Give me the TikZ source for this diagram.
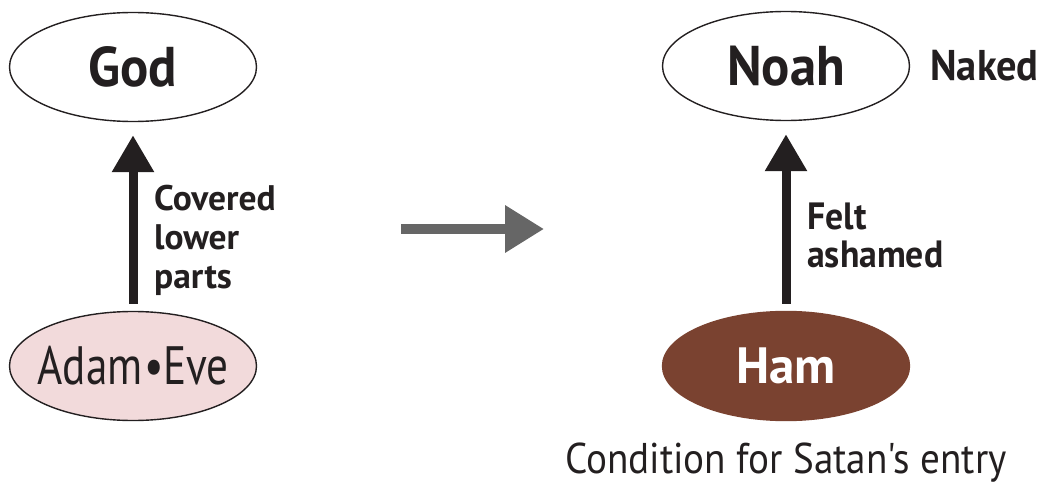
\documentclass[tikz,border=0pt]{standalone}
\usepackage{fontspec}
\usetikzlibrary{positioning,arrows.meta,shapes.geometric}
\newfontfamily\headfont[FakeStretch=0.94]{PT Sans}
\newfontfamily\labfont{PT Sans}
\newfontfamily\namefont[FakeStretch=0.8]{PT Sans}
\newfontfamily\regcond[FakeStretch=0.91]{PT Sans}
\definecolor{ink}{HTML}{231f20}
\definecolor{pink}{HTML}{f2dadb}
\definecolor{brown}{HTML}{7a4230}
\definecolor{grey}{HTML}{666666}
\tikzset{
  person/.style={ellipse,draw=ink,line width=1.4pt,fill=white,minimum width=247pt,minimum height=109pt,inner sep=0pt,text=ink},
  big/.style={font=\headfont\bfseries\fontsize{56}{60}\selectfont},
  up/.style={-{Triangle[length=37pt,width=40pt]},line width=9pt,draw=ink,shorten <=7pt,shorten >=13pt},
  turn/.style={-{Triangle[length=39pt,width=45pt]},line width=10pt,draw=grey},
  lab/.style={align=left,inner sep=0pt,text=ink,font=\labfont\bfseries\fontsize{35.5}{39}\selectfont},
}
\begin{document}
\begin{tikzpicture}[x=1pt,y=-1pt]
\useasboundingbox (0,0) rectangle (1047,484);
% left: before
\node[person,big] (god) at (133,67) {God};
\node[person,fill=pink,inner xsep=-20pt,font=\namefont\fontsize{54}{60}\selectfont] (adam) at (133,366) {Adam\kern2pt\textbullet\kern-1pt Eve};
\draw[up] (adam.north) -- (god.south);
\node[lab,anchor=north west] (cover) at (154,185) {Covered\\lower\\parts};
% change over
\coordinate (tfrom) at (401,229);
\coordinate (tto) at (544,229);
\draw[turn] (tfrom) -- (tto);
% right: after
\node[person,big] (noah) at (786,66) {Noah};
\node[lab,font=\headfont\bfseries\fontsize{43}{46}\selectfont,right=20pt of noah] (naked) {Naked};
\node[person,fill=brown,draw=brown,text=white,font=\labfont\bfseries\fontsize{51}{56}\selectfont] (ham) at (786,366) {Ham};
\draw[up] (ham.north) -- (noah.south);
\node[lab,font=\headfont\bfseries\fontsize{38}{38}\selectfont,anchor=north west] (shame) at (807,203) {Felt\\ashamed};
\node[text=ink,inner sep=0pt,font=\regcond\fontsize{43}{48}\selectfont,anchor=base west] (cond) at (565,473) {Condition for Satan's entry};
\end{tikzpicture}
\end{document}
